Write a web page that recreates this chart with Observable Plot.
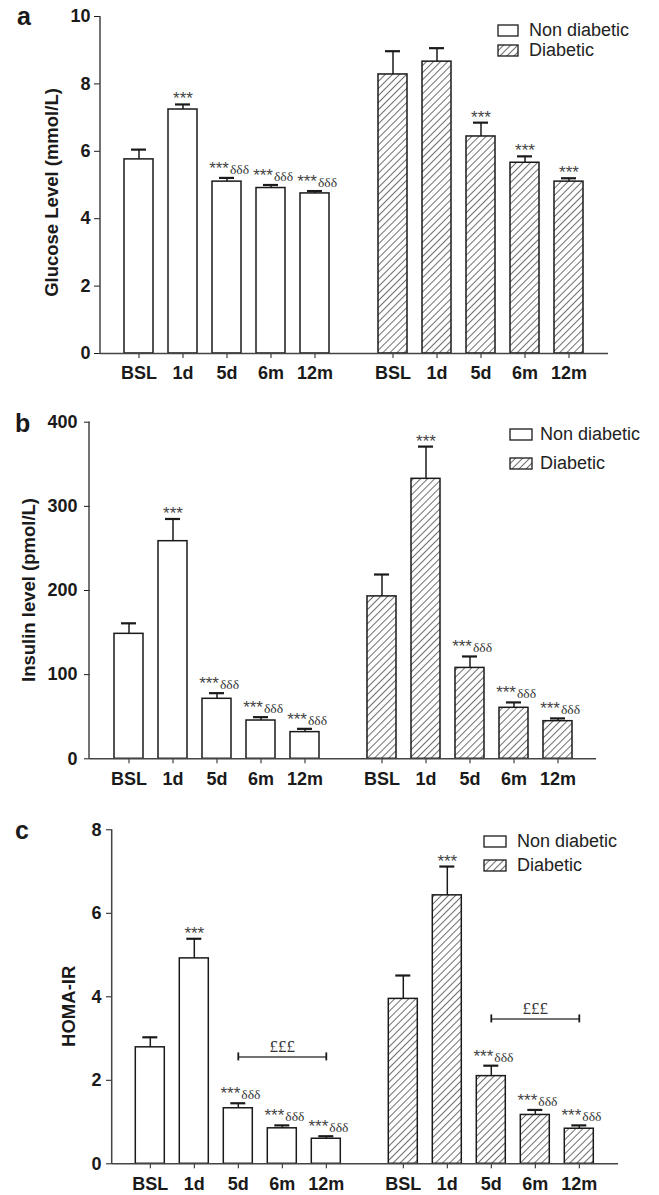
<!DOCTYPE html>
<html>
<head>
<meta charset="utf-8">
<script src="https://cdn.jsdelivr.net/npm/d3@7"></script>
<script src="https://cdn.jsdelivr.net/npm/@observablehq/plot@0.6"></script>
<style>
  body { margin: 0; background: #fff; }
  #root { position: relative; width: 659px; height: 1195px; overflow: hidden; font-family: "Liberation Sans", Arial, sans-serif; }
  .panel { position: absolute; left: 0; }
  .letter { position: absolute; font-weight: bold; font-size: 25px; color: #1a1a1a; line-height: 1; }
  .legend { position: absolute; font-size: 18px; color: #222; white-space: nowrap; }
  .legend .item { position: absolute; left: 0; display: flex; align-items: center; }
</style>
</head>
<body>
<svg width="0" height="0" style="position:absolute">
  <defs>
    <pattern id="hatch" patternUnits="userSpaceOnUse" width="5" height="5" patternTransform="rotate(45)">
      <rect width="5" height="5" fill="white"></rect>
      <line x1="0" y1="0" x2="0" y2="5" stroke="#1a1a1a" stroke-width="1.25"></line>
    </pattern>
  </defs>
</svg>
<div id="root"></div>
<script>
// ---------- data ----------
const times = ["BSL", "1d", "5d", "6m", "12m"];
const groups = ["Non diabetic", "Diabetic"];

// Panel a: Glucose (mmol/L)
const glucoseND = [5.76, 7.24, 5.10, 4.91, 4.75];
const glucoseNDErr = [0.29, 0.15, 0.11, 0.09, 0.07];
const glucoseD = [8.28, 8.66, 6.44, 5.66, 5.10];
const glucoseDErr = [0.69, 0.40, 0.41, 0.19, 0.10];
const glucoseStarsND = ["", "***", "***", "***", "***"];
const glucoseDeltaND = ["", "", "δδδ", "δδδ", "δδδ"];
const glucoseStarsD = ["", "", "***", "***", "***"];
const glucoseDeltaD = ["", "", "", "", ""];
const glucoseTicks = [0, 2, 4, 6, 8, 10];

// Panel b: Insulin (pmol/L)
const insulinND = [148.5, 258.6, 71.3, 45.5, 31.7];
const insulinNDErr = [12.5, 26.4, 6.7, 4.0, 3.9];
const insulinD = [193, 332.7, 108, 60.6, 44.7];
const insulinDErr = [26, 38.3, 13.6, 6.4, 3.3];
const insulinStarsND = ["", "***", "***", "***", "***"];
const insulinDeltaND = ["", "", "δδδ", "δδδ", "δδδ"];
const insulinStarsD = ["", "***", "***", "***", "***"];
const insulinDeltaD = ["", "", "δδδ", "δδδ", "δδδ"];
const insulinTicks = [0, 100, 200, 300, 400];

// Panel c: HOMA-IR
const homaND = [2.79, 4.92, 1.33, 0.85, 0.60];
const homaNDErr = [0.24, 0.47, 0.12, 0.07, 0.06];
const homaD = [3.95, 6.43, 2.10, 1.17, 0.84];
const homaDErr = [0.56, 0.69, 0.25, 0.12, 0.08];
const homaStarsND = ["", "***", "***", "***", "***"];
const homaDeltaND = ["", "", "δδδ", "δδδ", "δδδ"];
const homaStarsD = ["", "***", "***", "***", "***"];
const homaDeltaD = ["", "", "δδδ", "δδδ", "δδδ"];
const homaTicks = [0, 2, 4, 6, 8];
const homaBracketFrom = "5d";
const homaBracketTo = "12m";
const homaBracketY = [2.56, 3.47];
const homaBracketLabel = "£££";

// ---------- layout ----------
const W = 659;
const SANS = "Liberation Sans, Arial, sans-serif";
const SERIF = "Liberation Serif, Times New Roman, serif";
const INK = "#1a1a1a";
const AXIS = "#444";

const panels = [
  {letter: "a", top: 0, height: 385, ml: 100, mr: 51, mt: 16, mb: 32, tickPad: 4,
   ymax: 10, ticks: glucoseTicks, label: "Glucose Level (mmol/L)", labelX: 58, labelDy: 8,
   mean: [glucoseND, glucoseD], err: [glucoseNDErr, glucoseDErr],
   stars: [glucoseStarsND, glucoseStarsD], delta: [glucoseDeltaND, glucoseDeltaD],
   letterPos: [17, 4],
   legend: {x: 497, y: 24, gap: 19.5, box: [20, 11], textX: 32}},
  {letter: "b", top: 390, height: 410, ml: 89, mr: 62.3, mt: 31.7, mb: 41.7, tickPad: 7,
   ymax: 400, ticks: insulinTicks, label: "Insulin level (pmol/L)", labelX: 35, labelDy: 0,
   mean: [insulinND, insulinD], err: [insulinNDErr, insulinDErr],
   stars: [insulinStarsND, insulinStarsD], delta: [insulinDeltaND, insulinDeltaD],
   letterPos: [15, 411],
   legend: {x: 509, y: 428, gap: 28.5, box: [22, 11], textX: 31}},
  {letter: "c", top: 800, height: 395, ml: 111.7, mr: 39.7, mt: 29.3, mb: 31.7, tickPad: 5,
   ymax: 8, ticks: homaTicks, label: "HOMA-IR", labelX: 75, labelDy: 10,
   mean: [homaND, homaD], err: [homaNDErr, homaDErr],
   stars: [homaStarsND, homaStarsD], delta: [homaDeltaND, homaDeltaD],
   bracket: {from: homaBracketFrom, to: homaBracketTo, y: homaBracketY, label: homaBracketLabel},
   letterPos: [15, 818],
   legend: {x: 483, y: 835, gap: 23.5, box: [22, 11], textX: 34}}
];

const root = document.getElementById("root");

function makePanel(cfg) {
  const rows = groups.flatMap((g, gi) => times.map((t, i) => ({
    group: g, time: t, mean: cfg.mean[gi][i], err: cfg.err[gi][i],
    stars: cfg.stars[gi][i], delta: cfg.delta[gi][i]
  })));
  const topOf = d => d.mean + d.err;
  const solo = rows.filter(d => d.stars && !d.delta);
  const combo = rows.filter(d => d.stars && d.delta);
  const annoStyle = {fx: "group", x: "time", y: topOf, lineAnchor: "bottom", fontWeight: "normal"};

  const marks = [
    Plot.barY(rows.filter(d => d.group === groups[0]), {fx: "group", x: "time", y: "mean", fill: "white", stroke: INK, strokeWidth: 1.5}),
    Plot.barY(rows.filter(d => d.group === groups[1]), {fx: "group", x: "time", y: "mean", fill: "url(#hatch)", stroke: INK, strokeWidth: 1.5}),
    Plot.ruleX(rows, {fx: "group", x: "time", y1: "mean", y2: topOf, stroke: INK, strokeWidth: 1.5}),
    Plot.tickY(rows, {fx: "group", x: "time", y: topOf, stroke: INK, strokeWidth: 2.2, insetLeft: 7, insetRight: 7}),
    Plot.ruleY([0], {stroke: AXIS, strokeWidth: 1.5}),
    Plot.text(solo, {...annoStyle, text: "stars", dy: 0, fontSize: 17, fontFamily: SANS, fill: "#444"}),
    Plot.text(combo, {...annoStyle, text: "stars", textAnchor: "end", dx: 2, dy: -4, fontSize: 17, fontFamily: SANS, fill: "#444"}),
    Plot.text(combo, {...annoStyle, text: "delta", textAnchor: "start", dx: 3, dy: -4, fontSize: 13.5, fontFamily: SERIF, fill: "#333"})
  ];

  if (cfg.bracket) {
    const b = cfg.bracket;
    const mid = times[(times.indexOf(b.from) + times.indexOf(b.to)) / 2];
    const brows = groups.map((g, i) => ({group: g, from: b.from, to: b.to, mid, y: b.y[i], label: b.label}));
    const ends = brows.flatMap(d => [{...d, at: d.from}, {...d, at: d.to}]);
    marks.push(
      Plot.link(brows, {fx: "group", x1: "from", x2: "to", y1: "y", y2: "y", stroke: AXIS, strokeWidth: 1.5}),
      Plot.ruleX(ends, {fx: "group", x: "at", y1: "y", y2: "y", insetTop: -4, insetBottom: -4, stroke: INK, strokeWidth: 1.8}),
      Plot.text(brows, {fx: "group", x: "mid", y: "y", text: "label", lineAnchor: "bottom", dy: -5, fontSize: 17, fontFamily: SERIF, fontWeight: "normal", fill: "#333"})
    );
  }

  const svg = Plot.plot({
    width: W,
    height: cfg.height,
    marginLeft: cfg.ml, marginRight: cfg.mr, marginTop: cfg.mt, marginBottom: cfg.mb,
    style: {fontFamily: SANS, fontSize: "18px", fontWeight: "bold", color: INK, background: "transparent", overflow: "visible"},
    fx: {domain: groups, padding: 0, axis: null, label: null},
    x: {domain: times, paddingInner: 0.33, paddingOuter: 0.51, tickSize: 5, tickPadding: 8, label: null},
    y: {domain: [0, cfg.ymax], ticks: cfg.ticks, tickSize: 6, tickPadding: cfg.tickPad, label: null},
    marks
  });

  // y-axis line and title
  const s = d3.select(svg);
  const y0 = cfg.height - cfg.mb, y1 = cfg.mt;
  s.append("line").attr("x1", cfg.ml).attr("x2", cfg.ml).attr("y1", y0 + 0.75).attr("y2", y1)
    .attr("stroke", AXIS).attr("stroke-width", 1.5);
  s.append("text")
    .attr("transform", `translate(${cfg.labelX},${(y0 + y1) / 2 + cfg.labelDy}) rotate(-90)`)
    .attr("text-anchor", "middle")
    .style("font-size", "18.5px").style("font-weight", "bold").attr("fill", INK)
    .text(cfg.label);

  const wrap = document.createElement("div");
  wrap.className = "panel";
  wrap.style.top = cfg.top + "px";
  wrap.appendChild(svg);
  root.appendChild(wrap);

  // panel letter
  const L = document.createElement("div");
  L.className = "letter";
  L.style.left = cfg.letterPos[0] + "px";
  L.style.top = cfg.letterPos[1] + "px";
  L.textContent = cfg.letter;
  root.appendChild(L);

  // legend
  const lg = document.createElement("div");
  lg.className = "legend";
  lg.style.left = cfg.legend.x + "px";
  lg.style.top = cfg.legend.y + "px";
  groups.forEach((g, i) => {
    const it = document.createElement("div");
    it.className = "item";
    it.style.top = (i * cfg.legend.gap) + "px";
    const [bw, bh] = cfg.legend.box;
    const fill = i === 0 ? "white" : "url(#hatch)";
    it.innerHTML = `<svg width="${bw + 2}" height="${bh + 2}" style="display:block"><rect x="1" y="1" width="${bw}" height="${bh}" fill="${fill}" stroke="${INK}" stroke-width="1.3"></rect></svg>` +
      `<span style="position:absolute;left:${cfg.legend.textX}px;top:-4px">${g}</span>`;
    lg.appendChild(it);
  });
  root.appendChild(lg);
}

panels.forEach(makePanel);
</script>
</body>
</html>
